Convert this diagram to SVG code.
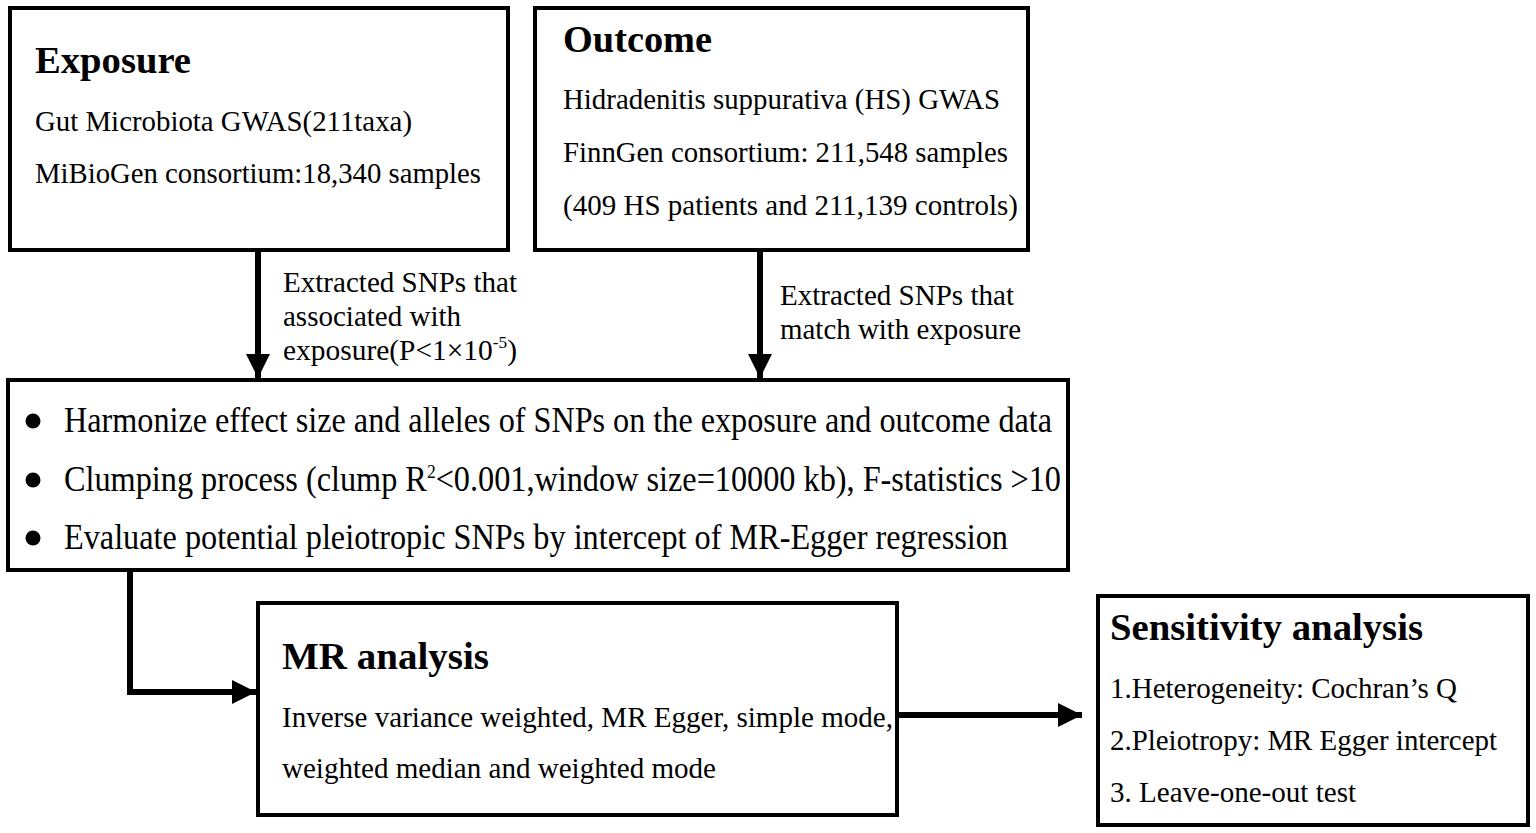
<svg xmlns="http://www.w3.org/2000/svg" width="1536" height="833" viewBox="0 0 1536 833">
<defs>
<style>
.box{fill:#fff;stroke:#000;stroke-width:4}
.t{font-family:"Liberation Serif","Times New Roman",serif;font-size:30px;fill:#000}
.s{font-family:"Liberation Serif","Times New Roman",serif;font-size:29px;fill:#000}
.m{font-family:"Liberation Serif","Times New Roman",serif;font-size:35px;fill:#000}
.h{font-family:"Liberation Serif","Times New Roman",serif;font-size:38px;font-weight:bold;fill:#000}
.c{fill:none;stroke:#000;stroke-width:6}
</style>
<marker id="ah" viewBox="0 0 10 10" refX="10" refY="5" markerWidth="4" markerHeight="4.4" orient="auto" markerUnits="strokeWidth">
<path d="M0,0 L10,5 L0,10 Z" fill="#000"/>
</marker>
</defs>
<rect width="1536" height="833" fill="#fff"/>
<g id="connectors">
<line class="c" x1="258" y1="250" x2="258" y2="378" marker-end="url(#ah)"/>
<line class="c" x1="760" y1="250" x2="760" y2="378" marker-end="url(#ah)"/>
<polyline class="c" points="130,570 130,692 256,692" marker-end="url(#ah)"/>
<line class="c" x1="897" y1="715" x2="1082" y2="715" marker-end="url(#ah)"/>
</g>
<g id="label-left">
<text class="s" x="283" y="292" textLength="234" lengthAdjust="spacingAndGlyphs">Extracted SNPs that</text>
<text class="s" x="283" y="326" textLength="178" lengthAdjust="spacingAndGlyphs">associated with</text>
<text class="s" x="283" y="360" textLength="234" lengthAdjust="spacingAndGlyphs">exposure(P&lt;1×10<tspan font-size="17" dy="-12">-5</tspan><tspan dy="12">)</tspan></text>
</g>
<g id="label-right">
<text class="s" x="780" y="305" textLength="234" lengthAdjust="spacingAndGlyphs">Extracted SNPs that</text>
<text class="s" x="780" y="339" textLength="241" lengthAdjust="spacingAndGlyphs">match with exposure</text>
</g>
<g id="exposure">
<rect class="box" x="10" y="8" width="498" height="242"/>
<text class="h" x="35" y="73" textLength="156" lengthAdjust="spacingAndGlyphs">Exposure</text>
<text class="t" x="35" y="131" textLength="377" lengthAdjust="spacingAndGlyphs">Gut Microbiota GWAS(211taxa)</text>
<text class="t" x="35" y="183" textLength="446" lengthAdjust="spacingAndGlyphs">MiBioGen consortium:18,340 samples</text>
</g>
<g id="outcome">
<rect class="box" x="535" y="8" width="493" height="242"/>
<text class="h" x="563" y="52" textLength="149" lengthAdjust="spacingAndGlyphs">Outcome</text>
<text class="t" x="563" y="109" textLength="437" lengthAdjust="spacingAndGlyphs">Hidradenitis suppurativa (HS) GWAS</text>
<text class="t" x="563" y="162" textLength="445" lengthAdjust="spacingAndGlyphs">FinnGen consortium: 211,548 samples</text>
<text class="t" x="563" y="215" textLength="455" lengthAdjust="spacingAndGlyphs">(409 HS patients and 211,139 controls)</text>
</g>
<g id="harmonize">
<rect class="box" x="8" y="380" width="1060" height="190"/>
<circle cx="33" cy="421" r="7.5"/>
<circle cx="33" cy="480" r="7.5"/>
<circle cx="33" cy="538" r="7.5"/>
<text class="m" x="64" y="432" textLength="988" lengthAdjust="spacingAndGlyphs">Harmonize effect size and alleles of SNPs on the exposure and outcome data</text>
<text class="m" x="64" y="491" textLength="997" lengthAdjust="spacingAndGlyphs">Clumping process (clump R<tspan font-size="19" dy="-13">2</tspan><tspan dy="13">&lt;0.001,window size=10000 kb), F-statistics &gt;10</tspan></text>
<text class="m" x="64" y="549" textLength="944" lengthAdjust="spacingAndGlyphs">Evaluate potential pleiotropic SNPs by intercept of MR-Egger regression</text>
</g>
<g id="mr-analysis">
<rect class="box" x="258" y="603" width="639" height="212"/>
<text class="h" x="282" y="669" textLength="207" lengthAdjust="spacingAndGlyphs">MR analysis</text>
<text class="s" x="282" y="727" textLength="611" lengthAdjust="spacingAndGlyphs">Inverse variance weighted, MR Egger, simple mode,</text>
<text class="s" x="282" y="778" textLength="434" lengthAdjust="spacingAndGlyphs">weighted median and weighted mode</text>
</g>
<g id="sensitivity">
<rect class="box" x="1098" y="596" width="430" height="229"/>
<text class="h" x="1110" y="640" textLength="313" lengthAdjust="spacingAndGlyphs">Sensitivity analysis</text>
<text class="s" x="1110" y="698" textLength="347" lengthAdjust="spacingAndGlyphs">1.Heterogeneity: Cochran’s Q</text>
<text class="s" x="1110" y="750" textLength="387" lengthAdjust="spacingAndGlyphs">2.Pleiotropy: MR Egger intercept</text>
<text class="s" x="1110" y="802" textLength="246" lengthAdjust="spacingAndGlyphs">3. Leave-one-out test</text>
</g>
</svg>
